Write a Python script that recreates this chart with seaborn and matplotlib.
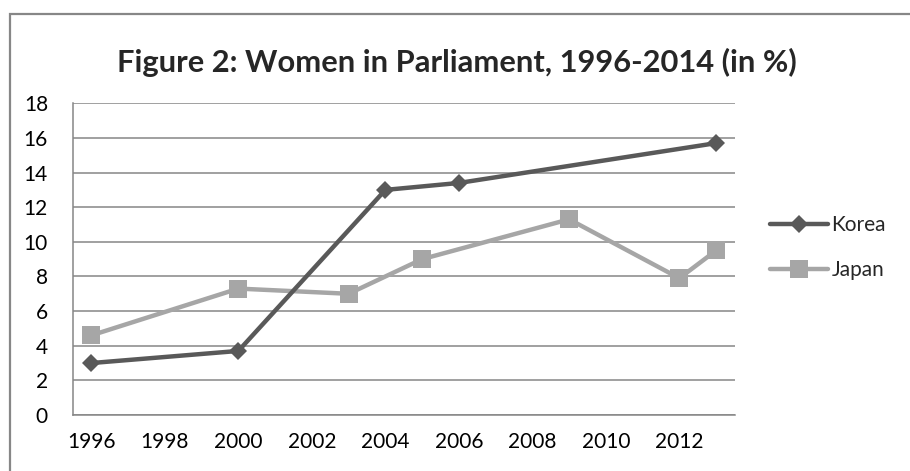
import pandas as pd
import matplotlib.pyplot as plt
import seaborn as sns
from matplotlib.patches import Rectangle

# ── data ──────────────────────────────────────────────────────────────────────
korea_years = [1996, 2000, 2004, 2006, 2013]
korea_pct = [3.0, 3.7, 13.0, 13.4, 15.7]
japan_years = [1996, 2000, 2003, 2005, 2009, 2012, 2013]
japan_pct = [4.6, 7.3, 7.0, 9.0, 11.3, 7.9, 9.5]
year_labels = list(range(1996, 2013, 2))
y_ticks = list(range(0, 19, 2))

korea = pd.DataFrame({"year": korea_years, "pct": korea_pct})
japan = pd.DataFrame({"year": japan_years, "pct": japan_pct})

# ── style ─────────────────────────────────────────────────────────────────────
sns.set_style("white")
plt.rcParams["font.family"] = ["Lato", "DejaVu Sans"]
grid_col = "#868686"

fig = plt.figure(figsize=(9.1, 4.71), dpi=100)
ax = fig.add_axes([73 / 910, 1 - 415 / 471, (734.5 - 73) / 910, (415 - 103.3) / 471])

# Japan first so the Korea line sits on top where they cross
sns.lineplot(data=japan, x="year", y="pct", ax=ax, color="#a6a6a6", lw=3.2,
             marker="s", markersize=13, markeredgewidth=0, label="Japan")
sns.lineplot(data=korea, x="year", y="pct", ax=ax, color="#595959", lw=3.2,
             marker="D", markersize=9.5, markeredgewidth=0, label="Korea")

# ── axes ──────────────────────────────────────────────────────────────────────
ax.set_xlim(1995.5, 2013.5)
ax.set_ylim(0, 18)
ax.set_xticks(year_labels)
ax.set_xticklabels([str(y) for y in year_labels])
ax.set_xticks([1995.5 + k for k in range(19)], minor=True)
ax.set_yticks(y_ticks)
ax.set_xlabel("")
ax.set_ylabel("")

ax.yaxis.grid(True, color=grid_col, lw=1.1)
ax.xaxis.grid(False)
ax.set_axisbelow(True)
for side in ["top", "right"]:
    ax.spines[side].set_visible(False)
for side in ["left", "bottom"]:
    ax.spines[side].set_color(grid_col)
    ax.spines[side].set_linewidth(1.1)

ax.tick_params(axis="y", which="major", direction="out", length=6, width=1.1,
               color=grid_col, pad=12, labelsize=15, labelcolor="black")
ax.tick_params(axis="x", which="major", length=0, pad=12, labelsize=15,
               labelcolor="black")
ax.tick_params(axis="x", which="minor", direction="out", length=6.5, width=1.1,
               color=grid_col)

# ── legend (Korea above Japan) ────────────────────────────────────────────────
handles, labels = ax.get_legend_handles_labels()
order = [labels.index("Korea"), labels.index("Japan")]
ax.get_legend().remove()
leg = fig.legend([handles[i] for i in order], [labels[i] for i in order],
                 loc="center left", bbox_to_anchor=(0.846, 0.4745),
                 frameon=False, fontsize=15, handlelength=2.8,
                 handletextpad=0.15, labelspacing=1.2, borderpad=0,
                 borderaxespad=0)

# ── title and chart-area border ───────────────────────────────────────────────
fig.text(0.5017, 1 - 62 / 471, "Figure 2: Women in Parliament, 1996-2014 (in %)",
         ha="center", va="center", fontsize=22.2, fontweight="bold")
fig.patches.append(Rectangle((9.5 / 910, -0.1), 1.2, 0.1 + (1 - 13.5 / 471),
                             transform=fig.transFigure, fill=False,
                             edgecolor="#878787", lw=1.6))

fig.savefig("out.png", dpi=100)
